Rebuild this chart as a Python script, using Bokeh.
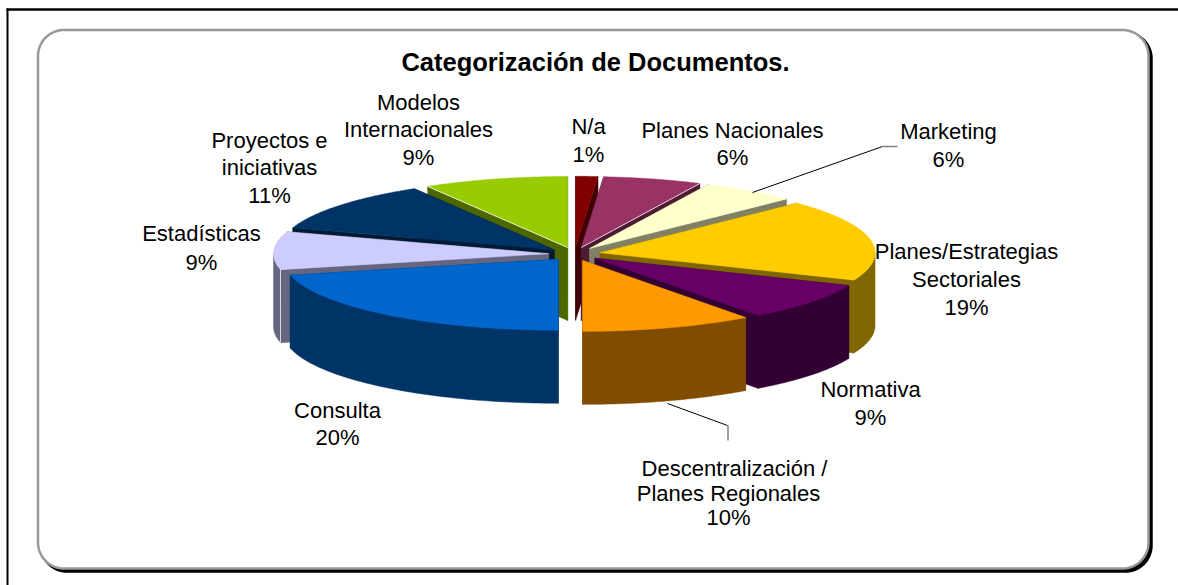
import numpy as np
from bokeh.plotting import figure
from bokeh.models import Range1d
from bokeh.core.properties import value
from bokeh.embed import file_html
from bokeh.resources import INLINE

# ---------- data ----------
categories = ["N/a", "Planes Nacionales", "Marketing", "Planes/Estrategias Sectoriales",
              "Normativa", "Descentralización / Planes Regionales", "Consulta",
              "Estadísticas", "Proyectos e iniciativas", "Modelos Internacionales"]
# shares as drawn (the labels show them rounded)
shares = [1.3, 5.8, 5.6, 18.6, 8.6, 10.1, 21.4, 8.6, 11.5, 8.5]
top_colors = ["#800000", "#993366", "#FFFFCC", "#FFCC00", "#660066",
              "#FF9900", "#0066CC", "#CCCCFF", "#003366", "#99CC00"]
wall_colors = ["#400000", "#4D1A33", "#808066", "#806600", "#330033",
               "#804D00", "#003366", "#666680", "#001A33", "#4D6600"]

title = "Categorización de Documentos."
label_lines = ["Modelos", "Internacionales", "9%", "N/a", "1%", "Planes Nacionales", "6%",
               "Marketing", "6%", "Planes/Estrategias", "Sectoriales", "19%", "Normativa", "9%",
               "Descentralización /", "Planes Regionales", "10%", "Consulta", "20%",
               "Estadísticas", "9%", "Proyectos e", "iniciativas", "11%"]

# ---------- layout ----------
label_x = [418, 418, 418, 588, 588, 732, 732, 948, 948, 966, 966, 966, 870, 870,
           734, 728, 728, 337, 337, 201, 201, 269, 269, 269]
label_y = [102, 129, 157, 126, 154, 130, 157, 131, 159, 251, 279, 307, 389, 417,
           468, 493, 517, 410, 437, 233, 262, 140, 167, 195]
CX, CY, RX, RY, DEPTH, EXPLODE = 574.0, 253.5, 275.0, 71.0, 73.0, 26.0

W, H = 1178, 585
p = figure(width=W, height=H, output_backend="svg", toolbar_location=None,
           x_range=Range1d(0, W), y_range=Range1d(H, 0),
           min_border=0, outline_line_color=None, background_fill_color="white",
           border_fill_color="white")
p.axis.visible = False
p.grid.visible = False


def round_box(x0, y0, x1, y1, r):
    t = np.linspace(0, np.pi / 2, 24)
    xs = np.concatenate([x1 - r + r * np.sin(t), x1 - r + r * np.cos(t),
                         x0 + r - r * np.sin(t), x0 + r - r * np.cos(t)])
    ys = np.concatenate([y0 + r - r * np.cos(t), y1 - r + r * np.sin(t),
                         y1 - r + r * np.cos(t), y0 + r - r * np.sin(t)])
    return xs, ys


# page frame
p.line([7, 7], [585, 8], line_color="black", line_width=2)
p.line([6, 1178], [9, 9], line_color="black", line_width=2.5)

# rounded panel with shadow
sx, sy = round_box(40.5, 32, 1151, 571, 26)
p.patch(sx, sy, fill_color="black", line_color="black", line_width=2.5)
bx, by = round_box(37.5, 29.5, 1148, 568, 26)
p.patch(bx, by, fill_color="white", line_color="#999999", line_width=2.5)

# pie, from the shares
total = sum(shares)
edges = np.cumsum([0] + shares) / total * 2 * np.pi
slices = []
for i in range(len(shares)):
    a0, a1 = edges[i], edges[i + 1]
    mid = (a0 + a1) / 2
    slices.append((np.cos(mid), i, a0, a1,
                   CX + EXPLODE * np.sin(mid), CY - EXPLODE * RY / RX * np.cos(mid)))

xs, ys, fills = [], [], []
hx, hy = [], []
for _, i, a0, a1, ax, ay in sorted(slices, key=lambda s: -s[0]):
    def rim(t):
        return ax + RX * np.sin(t), ay - RY * np.cos(t)
    # radial cut faces
    for a in (a0, a1):
        rx, ry = rim(a)
        xs.append([ax, rx, rx, ax])
        ys.append([ay, ry, ry + DEPTH, ay + DEPTH])
        fills.append(wall_colors[i])
    # outer wall, front half only
    lo, hi = max(a0, np.pi / 2), min(a1, 3 * np.pi / 2)
    if hi > lo:
        t = np.linspace(lo, hi, 60)
        wx, wy = rim(t)
        xs.append(np.concatenate([wx, wx[::-1]]).tolist())
        ys.append(np.concatenate([wy, wy[::-1] + DEPTH]).tolist())
        fills.append(wall_colors[i])
    # top face
    t = np.linspace(a0, a1, 80)
    tx, ty = rim(t)
    xs.append([ax] + tx.tolist())
    ys.append([ay] + ty.tolist())
    fills.append(top_colors[i])
    # thin light edges seen on a few slices
    if categories[i] == "Modelos Internacionales":
        rx, ry = rim(a0)
        hx.append([ax, rx]); hy.append([ay, ry])
    if categories[i] == "Planes Nacionales":
        rx, ry = rim(a1)
        hx.append([ax, rx]); hy.append([ay, ry])
    if categories[i] == "Estadísticas":
        rx, ry = rim(a0)
        hx.append([rx, rx]); hy.append([ry, ry + DEPTH])
p.patches(xs, ys, fill_color=fills, line_color=fills, line_width=0.5)
p.multi_line(hx, hy, line_color="white", line_width=0.9, line_alpha=0.85)

# leader lines
p.line([752, 882], [192, 146], line_color="black", line_width=1)
p.line([882, 897], [146, 146], line_color="#808080", line_width=1.5)
p.line([667, 727], [403, 425], line_color="black", line_width=1)
p.line([727.5, 727.5], [425, 440], line_color="#808080", line_width=1.5)

# texts
p.text(label_x, label_y, text=label_lines, text_font=value("Liberation Sans"),
       text_font_size="22px", text_color="black", text_align="center",
       text_baseline="middle")
p.text([595], [61], text=[title], text_font=value("Liberation Sans"),
       text_font_size="25.5px", text_font_style="bold", text_color="black",
       text_align="center", text_baseline="middle")

open("out.html", "w").write(file_html(p, INLINE))
